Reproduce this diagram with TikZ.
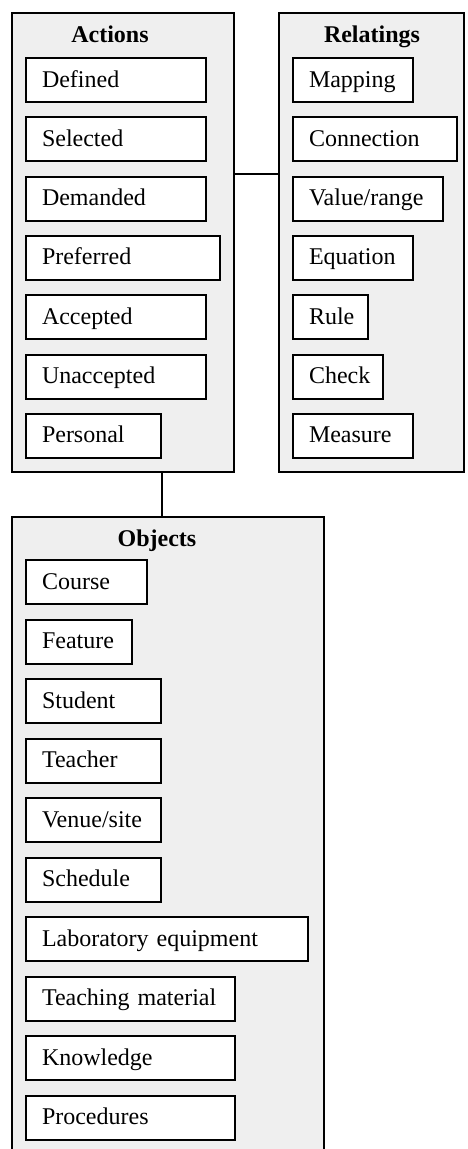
\documentclass[tikz,border=0pt]{standalone}
\usepackage{fontspec}
\setmainfont{Liberation Serif}
\definecolor{panelgray}{HTML}{EFEFEF}

\begin{document}
\begin{tikzpicture}[x=1pt,y=-1pt,
  panel/.style={draw,line width=1.6pt,fill=panelgray,anchor=north west,inner sep=0pt},
  itembox/.style={draw,line width=2pt,fill=white,anchor=north west,inner xsep=16pt,inner ysep=0pt,
    minimum height=44pt,text height=18pt,text depth=4pt,align=left,font=\fontsize{24}{28}\selectfont},
  paneltitle/.style={anchor=base,font=\fontsize{24}{28}\selectfont\bfseries},
  link/.style={line width=1.5pt}]
\path[use as bounding box,clip] (0,0) rectangle (468,1149);
% the three panels
\node[panel,minimum width=222pt,minimum height=459pt] (actions) at (11,12) {};
\node[panel,minimum width=185pt,minimum height=459pt] (relatings) at (278,12) {};
\node[panel,minimum width=312pt,minimum height=650pt] (objects) at (11,516) {};
\node[paneltitle] (actionstitle) at (110,42) {Actions};
\node[paneltitle] (relatingstitle) at (372,42) {Relatings};
\node[paneltitle] (objectstitle) at (157,546) {Objects};
% entries
\foreach \lbl/\w [count=\i from 0] in {Defined/180,Selected/180,Demanded/180,Preferred/194,Accepted/180,Unaccepted/180,Personal/135} {
  \pgfmathsetmacro{\ytop}{57+\i*59.3}
  \pgfmathsetmacro{\tw}{\w-32}
  \node[itembox,text width=\tw pt,minimum width=\w pt] (act\i) at (25,\ytop) {\lbl};
}
\foreach \lbl/\w [count=\i from 0] in {Mapping/120,Connection/164,{Value/range}/150,Equation/120,Rule/75,Check/90,Measure/120} {
  \pgfmathsetmacro{\ytop}{57+\i*59.3}
  \pgfmathsetmacro{\tw}{\w-32}
  \node[itembox,text width=\tw pt,minimum width=\w pt] (rel\i) at (292,\ytop) {\lbl};
}
\foreach \lbl/\w [count=\i from 0] in {Course/121,Feature/106,Student/135,Teacher/135,{Venue/site}/135,Schedule/135,Laboratory equipment/282,Teaching material/209,Knowledge/209,Procedures/209} {
  \pgfmathsetmacro{\ytop}{559+\i*59.5}
  \pgfmathsetmacro{\tw}{\w-32}
  \node[itembox,text width=\tw pt,minimum width=\w pt] (obj\i) at (25,\ytop) {\lbl};
}
% links between panels
\coordinate (junction) at (0,174);
\draw[link] (junction -| actions.east) -- (junction -| relatings.west);
\draw[link] (actions.south -| act6.east) -- (objects.north -| act6.east);
\end{tikzpicture}
\end{document}
